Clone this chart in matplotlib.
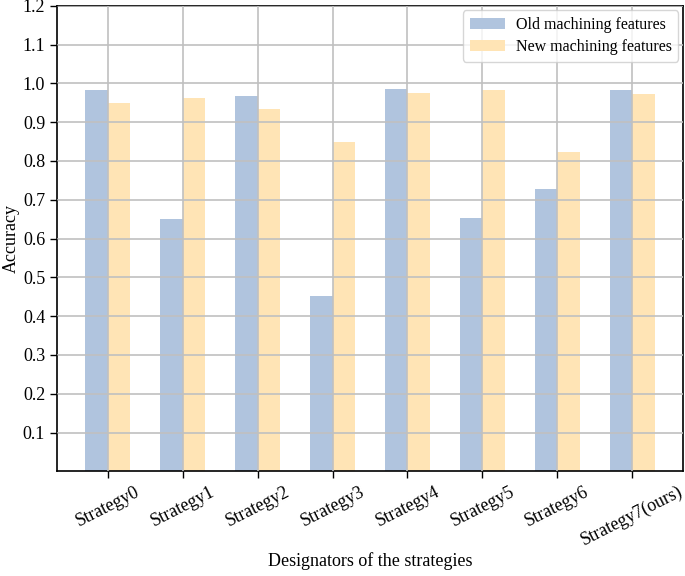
import numpy as np
import matplotlib
matplotlib.use("Agg")
import matplotlib.pyplot as plt

plt.rcParams['font.family'] = ['Liberation Serif', 'DejaVu Serif']

strategies = ["Strategy0", "Strategy1", "Strategy2", "Strategy3",
              "Strategy4", "Strategy5", "Strategy6", "Strategy7(ours)"]
old_acc = [0.984, 0.651, 0.967, 0.452, 0.986, 0.652, 0.727, 0.984]
new_acc = [0.950, 0.963, 0.933, 0.848, 0.976, 0.982, 0.822, 0.973]
y_ticks = [0.1, 0.2, 0.3, 0.4, 0.5, 0.6, 0.7, 0.8, 0.9, 1.0, 1.1, 1.2]

x = np.arange(len(strategies))
width = 0.3

fig = plt.figure(figsize=(6.85, 5.76), dpi=100)
ax = fig.add_axes([57 / 685, 1 - 471.3 / 576, 626 / 685, 465.6 / 576])

ax.bar(x - width / 2, old_acc, width, color="#b0c4de", label="Old machining features")
ax.bar(x + width / 2, new_acc, width, color="#ffe4b5", label="New machining features")

ax.set_axisbelow(False)
ax.grid(True, color="#c0c0c0", linewidth=1.2)
ax.set_ylim(0, 1.2)
ax.set_yticks(y_ticks)
ax.set_yticklabels([f"{v:.1f}" for v in y_ticks], fontsize=13)
ax.set_xticks(x)
ax.set_xticklabels(strategies, rotation=27, fontsize=13)
ax.tick_params(length=5, width=1)
ax.set_ylabel("Accuracy", fontsize=13, labelpad=2)
ax.set_xlabel("Designators of the strategies", fontsize=13, labelpad=2)
for s in ax.spines.values():
    s.set_linewidth(1.2)

ax.legend(loc="upper right", fontsize=11.5, borderaxespad=0.3,
          labelspacing=0.4, handlelength=2.2, handletextpad=0.7)

fig.savefig("out.png", dpi=100)
